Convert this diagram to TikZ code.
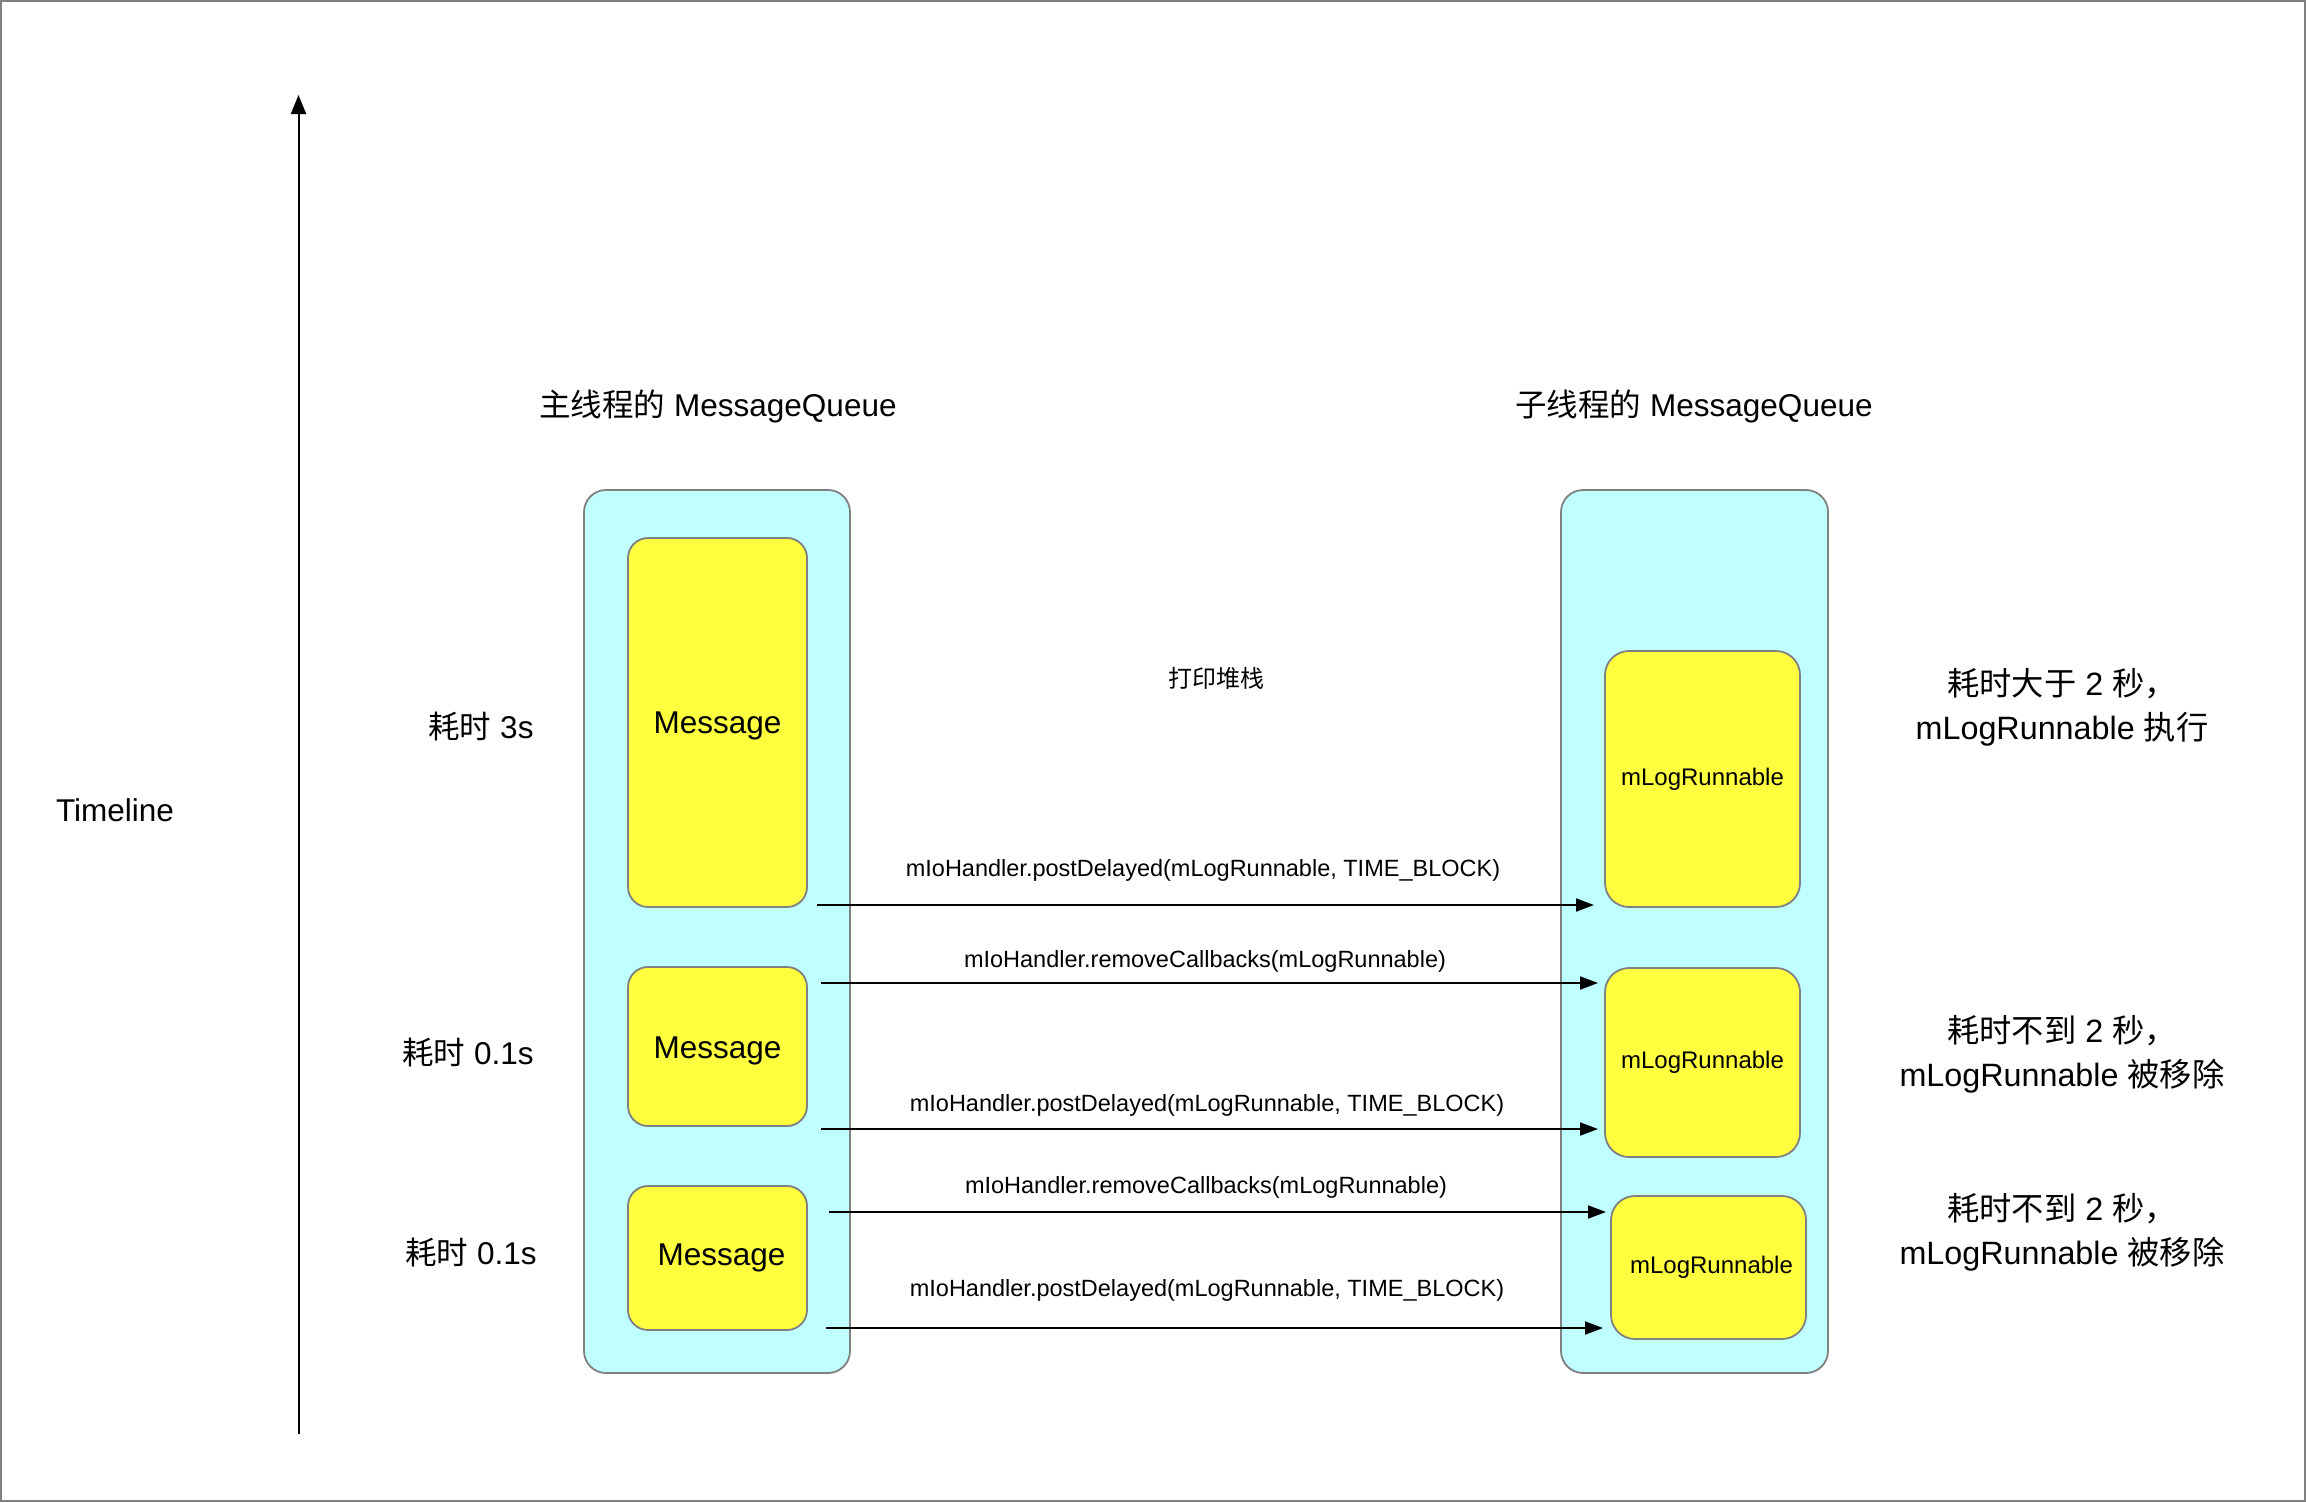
\documentclass[tikz,border=0pt]{standalone}
\usepackage{fontspec}
\setmainfont{Liberation Sans}
\newfontfamily\cjk{Noto Sans CJK SC}
\usetikzlibrary{arrows.meta}
\definecolor{qcyan}{RGB}{191,255,255}
\definecolor{qyellow}{RGB}{255,255,64}
\definecolor{qgray}{RGB}{128,128,128}
\begin{document}
\begin{tikzpicture}[x=1pt,y=-1pt,
  queuebox/.style={draw=qgray,fill=qcyan,line width=1.8pt,rounded corners=22pt,inner sep=0pt},
  itembox/.style={draw=qgray,fill=qyellow,line width=1.8pt,rounded corners=20pt,inner sep=0pt},
  big/.style={font=\fontsize{31.5}{44}\selectfont},
  bigger/.style={font=\fontsize{32.3}{44}\selectfont},
  mid/.style={font=\fontsize{24}{30}\selectfont},
  small/.style={font=\fontsize{23.5}{30}\selectfont},
  conn/.style={line width=2pt,-{Triangle[length=18pt,width=13pt]}}]
\useasboundingbox (0,0) rectangle (2306,1502);
\draw[qgray,line width=2pt] (1,1) rectangle (2305,1501);

% timeline
\coordinate (tl0) at (298.5,1434);
\coordinate (tl1) at (298.5,95);
\draw[line width=2pt,-{Triangle[length=19pt,width=15pt]}] (tl0) -- (tl1);
\node[big] (tltext) at (115,810) {Timeline};

% titles
\node[big] (t1) at (718,406) {{\cjk 主线程的} MessageQueue};
\node[big] (t2) at (1694,406) {{\cjk 子线程的} MessageQueue};

% containers
\node[queuebox,minimum width=266pt,minimum height=883pt] (mq) at (717,931.5) {};
\node[queuebox,minimum width=267pt,minimum height=883pt] (sq) at (1694.5,931.5) {};

% messages
\node[itembox,big,text height=26pt,text depth=4pt,minimum width=179pt,minimum height=369pt] (m1) at (717.5,722.5) {Message};
\node[itembox,big,text height=27pt,text depth=3pt,minimum width=179pt,minimum height=159pt] (m2) at (717.5,1046.5) {Message};
\node[itembox,big,minimum width=179pt,minimum height=144pt] (m3) at (717.5,1258) {\hspace*{8pt}Message};

% runnables
\node[itembox,mid,minimum width=195pt,minimum height=256pt,rounded corners=24pt] (r1) at (1702.5,779) {mLogRunnable};
\node[itembox,mid,minimum width=195pt,minimum height=189pt,rounded corners=24pt] (r2) at (1702.5,1062.5) {mLogRunnable};
\node[itembox,mid,minimum width=195pt,minimum height=143pt,rounded corners=24pt] (r3) at (1708.5,1267.5) {\hspace*{6pt}mLogRunnable};

% side labels
\node[big] (d1) at (481,727) {{\cjk 耗时} 3s};
\node[big] (d2) at (468,1052) {{\cjk 耗时} 0.1s};
\node[big] (d3) at (471,1252) {{\cjk 耗时} 0.1s};
\node[bigger,align=center] (n1) at (2062,707) {{\cjk 耗时大于} 2 {\cjk 秒，}\\mLogRunnable {\cjk 执行}};
\node[bigger,align=center] (n2) at (2062,1054) {{\cjk 耗时不到} 2 {\cjk 秒，}\\mLogRunnable {\cjk 被移除}};
\node[bigger,align=center] (n3) at (2062,1232) {{\cjk 耗时不到} 2 {\cjk 秒，}\\mLogRunnable {\cjk 被移除}};
\node[mid] (stack) at (1216,678) {\cjk 打印堆栈};

% connectors
\coordinate (a1s) at (817,905);  \coordinate (a1e) at (1594,905);
\coordinate (a2s) at (821,983);  \coordinate (a2e) at (1598,983);
\coordinate (a3s) at (821,1129); \coordinate (a3e) at (1598,1129);
\coordinate (a4s) at (829,1212); \coordinate (a4e) at (1606,1212);
\coordinate (a5s) at (826,1328); \coordinate (a5e) at (1603,1328);
\draw[conn] (a1s) -- (a1e);
\draw[conn] (a2s) -- (a2e);
\draw[conn] (a3s) -- (a3e);
\draw[conn] (a4s) -- (a4e);
\draw[conn] (a5s) -- (a5e);
\node[small] (l1) at (1203,870) {mIoHandler.postDelayed(mLogRunnable, TIME\_BLOCK)};
\node[small] (l2) at (1205,961) {mIoHandler.removeCallbacks(mLogRunnable)};
\node[small] (l3) at (1207,1105) {mIoHandler.postDelayed(mLogRunnable, TIME\_BLOCK)};
\node[small] (l4) at (1206,1187) {mIoHandler.removeCallbacks(mLogRunnable)};
\node[small] (l5) at (1207,1290) {mIoHandler.postDelayed(mLogRunnable, TIME\_BLOCK)};
\end{tikzpicture}
\end{document}
